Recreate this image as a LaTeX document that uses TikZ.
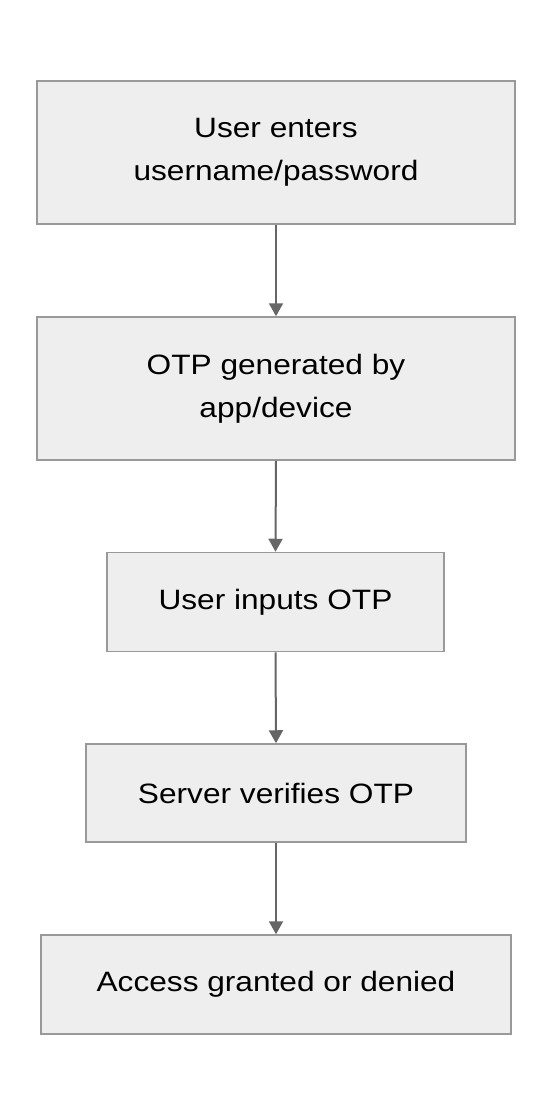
\documentclass[tikz,border=0pt]{standalone}
\usepackage{fontspec}
\setmainfont{Liberation Sans}[FakeStretch=1.13]
\usetikzlibrary{arrows.meta}
\definecolor{boxfill}{HTML}{EEEEEE}
\definecolor{boxline}{HTML}{999999}
\definecolor{arrowcol}{HTML}{666666}
\tikzset{
  stepbox/.style={draw=boxline, fill=boxfill, line width=1.5pt, inner sep=0pt,
    align=center, font=\fontsize{28}{43}\selectfont, text=black},
  flow/.style={draw=arrowcol, line width=2pt, -{Triangle[width=14pt,length=13pt]}}
}
\begin{document}
\begin{tikzpicture}[x=1pt,y=-1pt]
\useasboundingbox (0,0) rectangle (552,1116);
\fill[white] (0,0) rectangle (552,1116);
\node[stepbox, minimum width=478pt, minimum height=143pt] (a) at (276,152.5) {User enters\\username/password};
\node[stepbox, minimum width=478pt, minimum height=143pt] (b) at (276,388.5) {OTP generated by\\app/device};
\node[stepbox, minimum width=337pt, minimum height=99pt] (c) at (275.5,602) {User inputs OTP};
\node[stepbox, minimum width=380pt, minimum height=98pt] (d) at (276,793) {Server verifies OTP};
\node[stepbox, minimum width=470pt, minimum height=99pt] (e) at (276,984.5) {Access granted or denied};
\draw[flow] (a.south) -- (b.north);
\draw[flow] (b.south) -- (c.north);
\draw[flow] (c.south) -- (d.north);
\draw[flow] (d.south) -- (e.north);
\end{tikzpicture}
\end{document}
